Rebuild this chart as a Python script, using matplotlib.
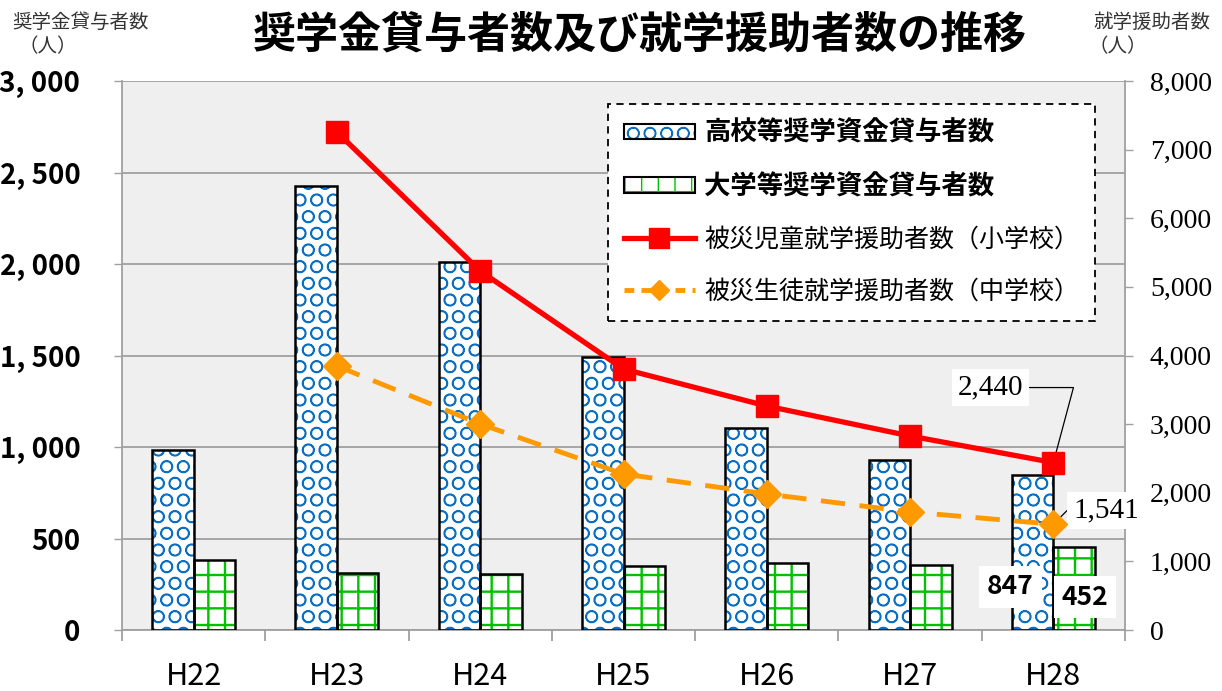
import matplotlib.pyplot as plt
from matplotlib.patches import Patch
from matplotlib.lines import Line2D
from matplotlib.legend_handler import HandlerTuple
from matplotlib.ticker import FuncFormatter

plt.rcParams['font.family'] = ['Noto Sans CJK JP', 'DejaVu Sans']

years = ["H22", "H23", "H24", "H25", "H26", "H27", "H28"]
koukou = [985, 2425, 2010, 1492, 1104, 929, 847]
daigaku = [380, 311, 306, 350, 366, 355, 452]
shougakkou = [None, 7257, 5231, 3803, 3264, 2827, 2440]
chuugakkou = [None, 3847, 3002, 2273, 1982, 1720, 1541]

BLUE = '#0a6fc2'
GREEN = '#00c000'

fig = plt.figure(figsize=(12.22, 6.91), dpi=100)
ax = fig.add_axes([122 / 1222, 61 / 691, 1003 / 1222, 549 / 691])
ax.set_facecolor('#efefef')

x = list(range(len(years)))
w = 0.29
xk = [i - w / 2 for i in x]
xd = [i + w / 2 for i in x]

# hatched fill first, then black outline on top
with plt.rc_context({'hatch.linewidth': 1.1}):
    ax.bar(xk, koukou, w, facecolor='white', edgecolor=BLUE, hatch='O', lw=0, zorder=2)
    blue_h = Patch(facecolor='white', edgecolor=BLUE, hatch='O', lw=0)
with plt.rc_context({'hatch.linewidth': 1.7}):
    ax.bar(xd, daigaku, w, facecolor='white', edgecolor=GREEN, hatch='+', lw=0, zorder=2)
    green_h = Patch(facecolor='white', edgecolor=GREEN, hatch='+', lw=0)
ax.bar(xk, koukou, w, fill=False, edgecolor='black', lw=1.8, zorder=3)
ax.bar(xd, daigaku, w, fill=False, edgecolor='black', lw=1.8, zorder=3)

ax.set_xlim(-0.5, 6.5)
ax.set_ylim(0, 3000)
ax.set_yticks(range(0, 3001, 500))
ax.yaxis.set_major_formatter(FuncFormatter(lambda v, p: f"{int(v):,}".replace(",", ", ")))
ax.yaxis.grid(True, color='#a0a0a0', lw=1.3)
ax.set_axisbelow(True)
ax.tick_params(axis='y', length=6, width=1, color='#a0a0a0', pad=24, labelsize=20)
for t in ax.get_yticklabels():
    t.set_fontweight('bold')

ax.set_xticks(x)
ax.set_xticklabels(years, fontsize=22)
ax.set_xticks([i + 0.5 for i in range(-1, 7)], minor=True)
ax.tick_params(axis='x', which='major', length=0, pad=22)
ax.tick_params(axis='x', which='minor', length=8, width=1.3, color='#a0a0a0')
for s in ax.spines.values():
    s.set_color('#a0a0a0')
    s.set_linewidth(1.3)
ax.spines['top'].set_visible(False)

ax2 = ax.twinx()
ax2.set_ylim(0, 8000)
ax2.set_yticks(range(0, 8001, 1000))
ax2.yaxis.set_major_formatter(FuncFormatter(lambda v, p: f"{int(v):,}"))
ax2.tick_params(axis='y', length=6, width=1, color='#a0a0a0', pad=12, labelsize=20)
for t in ax2.get_yticklabels():
    t.set_fontfamily('Liberation Serif')
for s in ax2.spines.values():
    s.set_visible(False)

xs = x[1:]
ax2.plot(xs, shougakkou[1:], color='#ff0000', lw=3.8, marker='s', ms=16, zorder=4)
ax2.plot(xs, chuugakkou[1:], color='#ff9900', lw=3.5, ls=(0, (5, 3)), marker='D',
         ms=14, zorder=4)

# data labels
ax2.annotate(f"{shougakkou[-1]:,}", xy=(6, shougakkou[-1]), xytext=(-45, 54),
             textcoords='offset points', fontsize=21, fontfamily='Liberation Serif',
             ha='center', va='center',
             bbox=dict(boxstyle='square,pad=0.2', fc='white', ec='none'),
             arrowprops=dict(arrowstyle='-', color='black', lw=0.9, shrinkA=0, shrinkB=0,
                             connectionstyle='angle,angleA=0,angleB=75,rad=0'))
ax2.annotate(f"{chuugakkou[-1]:,}", xy=(6, chuugakkou[-1]), xytext=(38, 10),
             textcoords='offset points', fontsize=21, fontfamily='Liberation Serif',
             ha='center', va='center',
             bbox=dict(boxstyle='square,pad=0.2', fc='white', ec='none'),
             arrowprops=dict(arrowstyle='-', color='black', lw=0.9, shrinkA=0, shrinkB=0,
                             connectionstyle='angle,angleA=0,angleB=45,rad=0'))
ax.text(6 - 0.30, 235, f"{koukou[-1]}", fontsize=19, fontweight='bold', ha='center',
        va='center', zorder=5, bbox=dict(boxstyle='square,pad=0.3', fc='white', ec='none'))
ax.text(6 + 0.22, 180, f"{daigaku[-1]}", fontsize=19, fontweight='bold', ha='center',
        va='center', zorder=5, bbox=dict(boxstyle='square,pad=0.3', fc='white', ec='none'))

outline = Patch(fill=False, edgecolor='black', lw=1.5)
handles = [
    (blue_h, outline),
    (green_h, outline),
    Line2D([], [], color='#ff0000', lw=3.8, marker='s', ms=14),
    Line2D([], [], color='#ff9900', lw=3.5, ls=(0, (2, 1.5)), marker='D', ms=10),
]
labels = ["高校等奨学資金貸与者数", "大学等奨学資金貸与者数",
          "被災児童就学援助者数（小学校）", "被災生徒就学援助者数（中学校）"]
leg = ax2.legend(handles, labels, loc='upper left', bbox_to_anchor=(608 / 1222, 1 - 104 / 691),
                 bbox_transform=fig.transFigure, borderaxespad=0, fontsize=19,
                 handlelength=2.7, handleheight=0.55, handletextpad=0.35, labelspacing=1.0,
                 fancybox=False, framealpha=1, edgecolor='black', borderpad=0.6,
                 handler_map={tuple: HandlerTuple(ndivide=1, pad=0)})
leg.get_frame().set_linestyle((0, (4, 3)))
leg.get_frame().set_linewidth(1.3)
for t in leg.get_texts()[:2]:
    t.set_fontweight('bold')
for t in leg.get_texts()[2:]:
    t.set_fontsize(18)

fig.text(640 / 1222, 1 - 35 / 691, "奨学金貸与者数及び就学援助者数の推移", fontsize=31,
         fontweight='bold', ha='center', va='center')
fig.text(12 / 1222, 1 - 22 / 691, "奨学金貸与者数", fontsize=14, color='#333333', va='center')
fig.text(18 / 1222, 1 - 47 / 691, "（人）", fontsize=14, color='#333333', va='center')
fig.text(1210 / 1222, 1 - 22 / 691, "就学援助者数", fontsize=14, color='#333333',
         va='center', ha='right')
fig.text(1088 / 1222, 1 - 47 / 691, "（人）", fontsize=14, color='#333333', va='center')

fig.savefig('out.png', dpi=100)
